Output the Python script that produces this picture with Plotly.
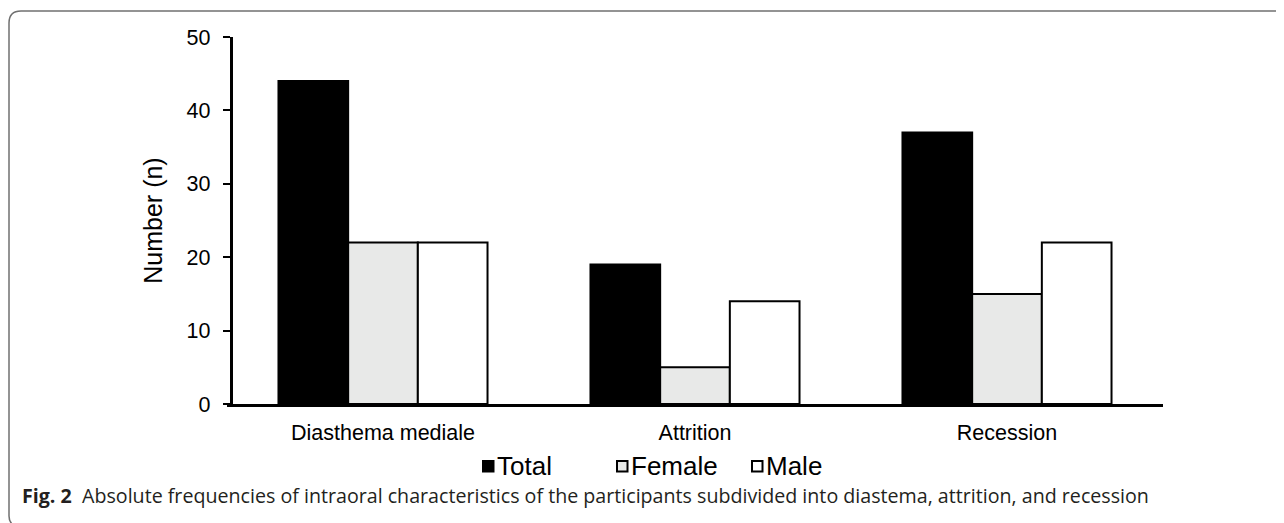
import plotly.graph_objects as go

categories = ["Diasthema mediale", "Attrition", "Recession"]
series_names = ["Total", "Female", "Male"]
total = [44, 19, 37]
female = [22, 5, 15]
male = [22, 14, 22]
y_ticks = [0, 10, 20, 30, 40, 50]

series_colors = ["#000000", "#e8e9e8", "#ffffff"]

# page is offset by the default 8px body margin
OFF = 8
W, H = 1284 - OFF, 523 - OFF
L, R, T, B = 227 - OFF, 1163 - OFF, 37 - OFF, 404 - OFF


def px(x):
    return (x - OFF - L) / (R - L)


def py(y):
    return (B - (y - OFF)) / (B - T)


fig = go.Figure()
for name, vals, col in zip(series_names, [total, female, male], series_colors):
    fig.add_bar(name=name, x=categories, y=vals,
                marker=dict(color=col, line=dict(color="#000000", width=2)))

frame = (f"M {px(1300)},{py(11)} L {px(21)},{py(11)} "
         f"Q {px(9)},{py(11)} {px(9)},{py(23)} L {px(9)},{py(516)} "
         f"Q {px(9)},{py(521)} {px(12)},{py(524)}")

shapes = [dict(type="path", xref="paper", yref="paper", path=frame,
               line=dict(color="#707070", width=1.5), layer="below")]
annotations = []

# custom legend (square swatch + label) placed under the axis
legend_x = [483, 617, 752]
for x0, name, col in zip(legend_x, series_names, series_colors):
    shapes.append(dict(type="rect", xref="paper", yref="paper",
                       x0=px(x0), x1=px(x0 + 10.5), y0=py(471.5), y1=py(461),
                       fillcolor=col, line=dict(color="#000000", width=2)))
    annotations.append(dict(xref="paper", yref="paper", x=px(x0 + 12), y=py(466.5),
                            xanchor="left", yanchor="middle", showarrow=False,
                            text=name, font=dict(size=26)))

annotations.append(dict(xref="paper", yref="paper", x=px(20), y=py(495),
                        xanchor="left", yanchor="middle", showarrow=False,
                        text="<b>Fig. 2</b>  Absolute frequencies of intraoral characteristics of the participants subdivided into diastema, attrition, and recession",
                        font=dict(family="Open Sans, Noto Sans, sans-serif", size=19.65, color="#231f20")))

fig.update_layout(
    width=W, height=H,
    margin=dict(l=L, r=W - R, t=T, b=H - B, autoexpand=False),
    paper_bgcolor="white", plot_bgcolor="white",
    barmode="group", bargap=0.33, bargroupgap=0,
    font=dict(family="Liberation Sans, Arial, sans-serif", color="#000000", size=21.5),
    showlegend=False,
    xaxis=dict(showline=True, linecolor="#000000", linewidth=3, ticks="",
               showgrid=False, tickfont=dict(size=21.5), ticklabelstandoff=7),
    yaxis=dict(range=[0, 50], tickvals=y_ticks, showline=True, linecolor="#000000",
               anchor="free", position=0.004,
               linewidth=3, ticks="outside", ticklen=7, tickwidth=2, tickcolor="#000000",
               showgrid=False, zeroline=False, tickfont=dict(size=21.5), ticklabelstandoff=8,
               title=dict(text="Number (n)", font=dict(size=25), standoff=15)),
    shapes=shapes,
    annotations=annotations,
)

fig.write_html("out.html")
